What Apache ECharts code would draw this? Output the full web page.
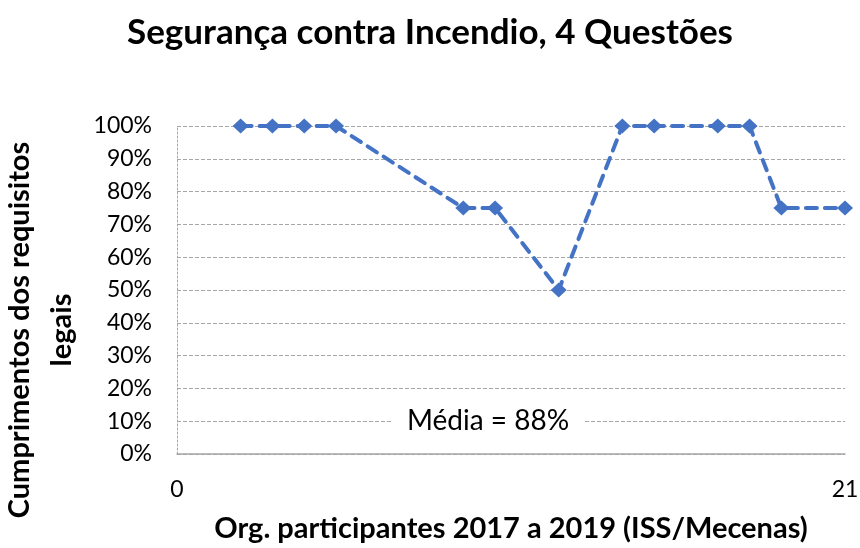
<!DOCTYPE html>
<html>
<head>
<meta charset="utf-8">
<script src="https://cdn.jsdelivr.net/npm/echarts@6/dist/echarts.min.js"></script>
<style>
  html, body { margin: 0; padding: 0; background: #fff; }
  #chart { width: 860px; height: 548px; }
</style>
</head>
<body>
<div id="chart"></div>
<script>
var titleText = 'Segurança contra Incendio, 4 Questões';
var xName = 'Org. participantes 2017 a 2019 (ISS/Mecenas)';
var yName = 'Cumprimentos dos requisitos\nlegais';
var mediaText = 'Média = 88%';

// participant number and share of legal requirements met
var orgs = [2, 3, 4, 5, 9, 10, 12, 14, 15, 17, 18, 19, 21];
var values = [1, 1, 1, 1, 0.75, 0.75, 0.5, 1, 1, 1, 1, 0.75, 0.75];

var font = 'Lato, "Open Sans", sans-serif';
var myChart = echarts.init(document.getElementById('chart'));

var points = [];
for (var i = 0; i < orgs.length; i++) {
    points.push([orgs[i], values[i]]);
}

var option = {
    backgroundColor: '#fff',
    animation: false,
    title: {
        text: titleText,
        left: 'center',
        top: 10,
        textStyle: { fontFamily: font, fontSize: 35, fontWeight: 'bold', color: '#000' }
    },
    grid: { left: 177, right: 15, top: 126, bottom: 94, outerBoundsMode: 'none' },
    xAxis: {
        type: 'value',
        min: 0,
        max: 21,
        interval: 21,
        name: xName,
        nameLocation: 'middle',
        nameGap: 60,
        nameTextStyle: { fontFamily: font, fontSize: 29, fontWeight: 'bold', color: '#000' },
        axisLine: { lineStyle: { color: '#a6a6a6', width: 1.5 } },
        axisTick: { show: false },
        splitLine: { show: false },
        axisLabel: { fontFamily: font, fontSize: 23, color: '#000', margin: 24 }
    },
    yAxis: {
        type: 'value',
        min: 0,
        max: 1,
        interval: 0.1,
        name: yName,
        nameLocation: 'middle',
        nameGap: 81,
        nameTextStyle: {
            fontFamily: font, fontSize: 29, fontWeight: 'bold', color: '#000',
            lineHeight: 42, padding: [0, 80, 0, 0]
        },
        axisLine: { show: true, lineStyle: { color: '#a6a6a6', type: [2, 2] } },
        axisTick: { show: false },
        splitLine: { lineStyle: { color: '#a6a6a6', type: [4, 2] } },
        axisLabel: {
            fontFamily: font, fontSize: 23, color: '#000', margin: 25,
            formatter: function (v) { return Math.round(v * 100) + '%'; }
        }
    },
    graphic: [{
        type: 'text',
        x: 488,
        y: 421,
        z: 50,
        style: {
            text: mediaText,
            fontFamily: font,
            fontSize: 28,
            fill: '#000',
            align: 'center',
            verticalAlign: 'middle',
            backgroundColor: '#fff',
            padding: [2, 14, 2, 14]
        }
    }],
    series: [{
        type: 'line',
        data: points,
        symbol: 'diamond',
        symbolSize: [16, 15],
        itemStyle: { color: '#4472c4' },
        lineStyle: { color: '#4472c4', width: 4, type: [11, 8], cap: 'round' }
    }]
};

myChart.setOption(option);
</script>
</body>
</html>
